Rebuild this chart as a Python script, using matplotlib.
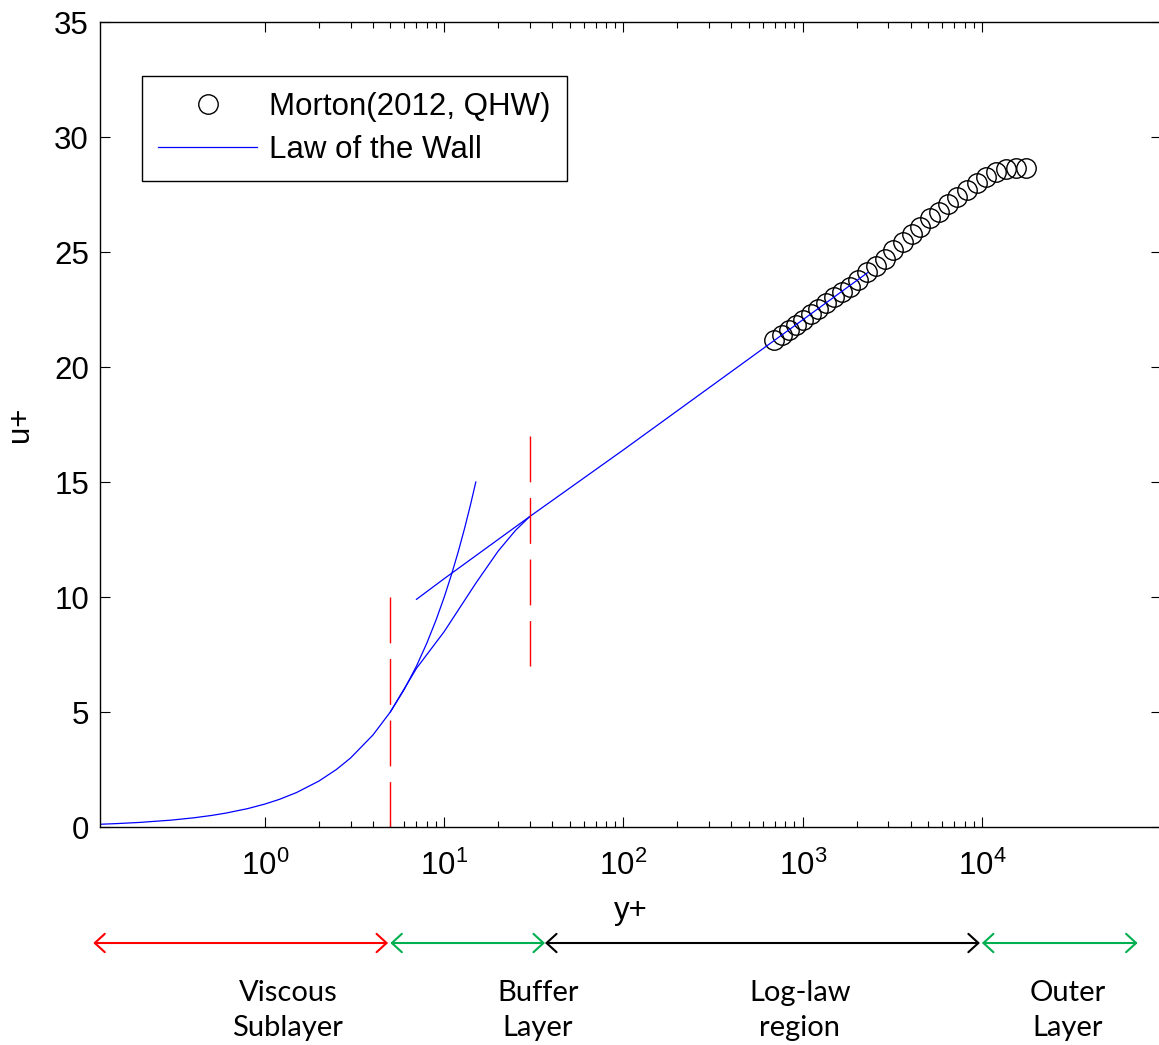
import numpy as np
import matplotlib
matplotlib.use('Agg')
import matplotlib.pyplot as plt
from matplotlib.ticker import FixedLocator, NullLocator, LogFormatterSciNotation
from matplotlib.transforms import blended_transform_factory

plt.rcParams['font.family'] = ['Liberation Sans', 'DejaVu Sans']

# Morton (2012, QHW) measurements
morton_y = [691, 766, 838, 917, 1003, 1112, 1217, 1348, 1494, 1656,
            1835, 2033, 2282, 2562, 2876, 3188, 3625, 4069, 4510, 5128,
            5756, 6462, 7254, 8248, 9378, 10527, 11970, 13610, 15475, 17600]
morton_u = [21.17, 21.39, 21.61, 21.83, 22.04, 22.30, 22.52, 22.78, 23.04, 23.26,
            23.48, 23.78, 24.13, 24.39, 24.70, 25.09, 25.43, 25.78, 26.09, 26.48,
            26.74, 27.09, 27.39, 27.70, 28.00, 28.26, 28.48, 28.61, 28.65, 28.65]

# law of the wall pieces
visc_y = [0.12, 0.15, 0.2, 0.3, 0.4, 0.5, 0.6, 0.8, 1.0, 1.2, 1.5, 2.0, 2.5, 3.0,
          4.0, 5.0, 6.0, 7.0, 8.0, 9.0, 10.0, 11.0, 12.0, 13.0, 14.0, 15.0]
visc_u = [0.12, 0.15, 0.2, 0.3, 0.4, 0.5, 0.6, 0.8, 1.0, 1.2, 1.5, 2.0, 2.5, 3.0,
          4.0, 5.0, 6.0, 7.0, 8.0, 9.0, 10.0, 11.0, 12.0, 13.0, 14.0, 15.0]
buff_y = [5.0, 7.0, 10.0, 15.0, 20.0, 25.0, 30.0]
buff_u = [5.0, 6.9, 8.5, 10.6, 12.0, 12.9, 13.5]
log_y = [7.0, 10.0, 30.0, 100.0, 1000.0, 2300.0]
log_u = [9.9, 10.8, 13.5, 16.4, 22.05, 24.1]

# region markers
bound_y = [5, 30]
bound_lo = [0, 7]
bound_hi = [10, 17]

region_left = [0.11, 5.0, 36.5, 1.0e4]
region_right = [4.86, 36.5, 9750, 7.4e4]
region_labels = ['Viscous\nSublayer', 'Buffer\nLayer', 'Log-law\nregion', 'Outer\nLayer']
region_label_x = [1.34, 33.3, 966, 30200]
region_colors = ['#ff0000', '#00b050', 'black', '#00b050']

fig = plt.figure(figsize=(11.59, 10.45), dpi=100)
ax = fig.add_axes([0.0863, 0.2086, 0.9155, 0.7703])

ax.semilogx(morton_y, morton_u, 'o', mfc='none', mec='k', ms=14, mew=1.0,
            label='Morton(2012, QHW)')
ax.semilogx(visc_y, visc_u, color='b', lw=0.9, label='Law of the Wall')
ax.semilogx(buff_y, buff_u, color='b', lw=0.9)
ax.semilogx(log_y, log_u, color='b', lw=0.9)

for xb, lo, hi in zip(bound_y, bound_lo, bound_hi):
    ax.plot([xb, xb], [hi, lo], color='r', lw=1.0, linestyle=(0, (33, 11.3)))

ax.set_xlim(0.12, 1e5)
ax.set_ylim(0, 35)
ax.set_yticks(range(0, 36, 5))
ax.xaxis.set_major_locator(FixedLocator([1, 10, 100, 1000, 10000]))
ax.xaxis.set_major_formatter(LogFormatterSciNotation())
ax.xaxis.set_minor_locator(FixedLocator([m * 10 ** k for k in range(4) for m in range(2, 10)]))
ax.yaxis.set_minor_locator(NullLocator())

ax.tick_params(which='both', direction='in', top=True, right=True, labelsize=22.5)
ax.tick_params(which='major', length=7, width=0.8)
ax.tick_params(which='minor', length=4.5, width=0.8)
ax.tick_params(axis='x', pad=17)
ax.tick_params(axis='y', pad=8)
for s in ax.spines.values():
    s.set_linewidth(1.0)

ax.set_xlabel('y+', fontsize=22.5, labelpad=10)
ax.set_ylabel('u+', fontsize=22.5, labelpad=14)

leg = ax.legend(loc='upper left', bbox_to_anchor=(0.0396, 0.9329), borderaxespad=0,
                fontsize=22.5, fancybox=False, framealpha=1, edgecolor='k',
                handlelength=3.15, handletextpad=0.4, labelspacing=0.4,
                borderpad=0.52, numpoints=1)
leg.get_frame().set_linewidth(1.0)

trans = blended_transform_factory(ax.transData, fig.transFigure)
for x0, x1, c in zip(region_left, region_right, region_colors):
    ax.annotate('', xy=(x1, 0.0976), xytext=(x0, 0.0976),
                xycoords=trans, textcoords=trans, annotation_clip=False,
                arrowprops=dict(arrowstyle='<->,head_length=0.36,head_width=0.33',
                                color=c, lw=1.5, shrinkA=0, shrinkB=0,
                                mutation_scale=20))
for xl, lab in zip(region_label_x, region_labels):
    ax.text(xl, 0.0330, lab, transform=trans, ha='center', va='center',
            multialignment='center', fontsize=21, family=['Lato', 'DejaVu Sans'],
            linespacing=1.42, clip_on=False)

fig.savefig('out.png', dpi=100)
